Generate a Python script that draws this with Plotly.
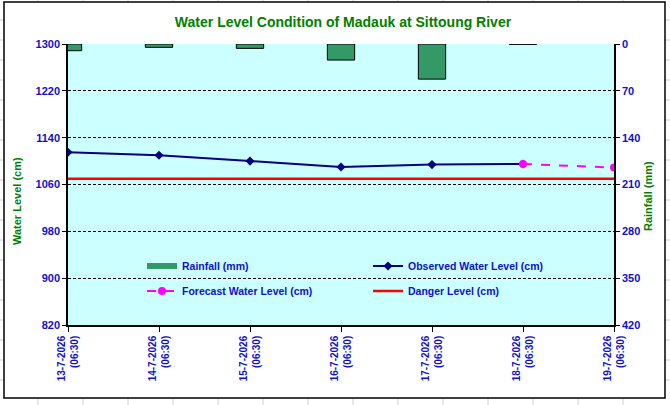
import plotly.graph_objects as go

# chart data
dates = ["13-7-2026", "14-7-2026", "15-7-2026", "16-7-2026",
         "17-7-2026", "18-7-2026", "19-7-2026"]
obs_time = "(06:30)"
rainfall_mm = [10, 5, 6.5, 24, 52.5, 0.5, None]
observed_cm = [1115, 1110, 1100, 1090, 1094, 1095, None]
forecast_cm = [None, None, None, None, None, 1095, 1089]
danger_cm = [1070] * 7
wl_ticks = [820, 900, 980, 1060, 1140, 1220, 1300]
rf_ticks = [0, 70, 140, 210, 280, 350, 420]
sheet_cols = [38, 83, 128, 173, 218, 263, 308, 353, 398, 443, 488, 533, 578, 623]
sheet_rows = [20, 40, 60, 80, 100, 120, 140, 160, 180, 200, 220, 240, 260, 280,
              300, 320, 340, 360, 380]

W, H = 670, 405
L, R, T, B = 68, 614, 44, 325

FONT = "Arial, Liberation Sans, sans-serif"
BLUE = "#1010C8"
GREEN = "#008000"
RAIN_GREEN = "#339966"

x = list(range(len(dates)))
labels = [f"{d}<br>{obs_time}" for d in dates]


def px_x(p):
    return (p - L) / (R - L)


def px_y(p):
    return (B - p) / (B - T)


fig = go.Figure()

fig.add_trace(go.Bar(
    x=x, y=rainfall_mm, name="<b>Rainfall (mm)</b>", yaxis="y2", width=0.3,
    marker=dict(color=RAIN_GREEN, line=dict(color="black", width=1)),
    showlegend=False,
))
# legend stand-in so the rainfall key is a wide flat bar like the original
fig.add_trace(go.Scatter(
    x=[None], y=[None], name="<b>Rainfall (mm)</b>", mode="lines",
    line=dict(color=RAIN_GREEN, width=6), legend="legend",
))
fig.add_trace(go.Scatter(
    x=x, y=observed_cm, name="<b>Observed Water Level (cm)</b>", mode="lines+markers",
    line=dict(color="#000080", width=2),
    marker=dict(symbol="diamond", size=7, color="#000080"),
    legend="legend2",
))
fig.add_trace(go.Scatter(
    x=x, y=forecast_cm, name="<b>Forecast Water Level (cm)</b>", mode="lines+markers",
    line=dict(color="#FF00FF", width=2, dash="dash"),
    marker=dict(symbol="circle", size=8, color="#FF00FF"),
    legend="legend3",
))
fig.add_trace(go.Scatter(
    x=x, y=danger_cm, name="<b>Danger Level (cm)</b>", mode="lines",
    line=dict(color="#FF0000", width=2.5),
    legend="legend4",
))

shapes = []
# spreadsheet grid peeking around the chart frame
for c in sheet_cols:
    for y0, y1 in ((0, 2), (398, 405)):
        shapes.append(dict(type="line", xref="paper", yref="paper",
                           x0=px_x(c), x1=px_x(c), y0=px_y(y0), y1=px_y(y1),
                           line=dict(color="#D0D0D0", width=1), layer="below"))
for r in sheet_rows:
    for x0, x1 in ((0, 4), (665, 670)):
        shapes.append(dict(type="line", xref="paper", yref="paper",
                           x0=px_x(x0), x1=px_x(x1), y0=px_y(r), y1=px_y(r),
                           line=dict(color="#D0D0D0", width=1), layer="below"))
# chart frame
shapes.append(dict(type="rect", xref="paper", yref="paper",
                   x0=px_x(4), x1=px_x(665), y0=px_y(2), y1=px_y(398),
                   line=dict(color="black", width=1.5), layer="below"))

tickfont = dict(family=FONT, size=11, color=BLUE)
legfont = dict(family=FONT, size=10.5, color=BLUE)
axtitle_font = dict(family=FONT, size=11, color=GREEN)


def leg(px, py):
    return dict(x=px_x(px), y=px_y(py), xanchor="left", yanchor="middle",
                bgcolor="rgba(0,0,0,0)", font=legfont, itemwidth=30)


# axis titles sit a little below the plot middle in the original
annotations = [
    dict(text="<b>Water Level (cm)</b>", xref="paper", yref="paper",
         x=px_x(17), y=px_y(201), xanchor="center", yanchor="middle",
         textangle=-90, showarrow=False, font=axtitle_font),
    dict(text="<b>Rainfall (mm)</b>", xref="paper", yref="paper",
         x=px_x(648), y=px_y(196), xanchor="center", yanchor="middle",
         textangle=-90, showarrow=False, font=axtitle_font),
]

fig.update_layout(
    width=W, height=H,
    margin=dict(l=L, r=W - R, t=T, b=H - B),
    paper_bgcolor="white",
    plot_bgcolor="#CCFFFF",
    showlegend=True,
    title=dict(text="<b>Water Level Condition of Madauk at Sittoung River</b>",
               x=px_x(343), xref="paper", xanchor="center",
               y=1 - 22 / H, yanchor="middle",
               font=dict(family=FONT, size=14, color=GREEN)),
    xaxis=dict(range=[0, 6], tickvals=x, ticktext=[f"<b>{t}</b>" for t in labels],
               tickangle=-90, tickfont=dict(family=FONT, size=10, color=BLUE),
               ticks="outside", ticklen=5, tickcolor="black",
               showline=True, linecolor="black", linewidth=1.5,
               showgrid=False, zeroline=False, automargin=False),
    yaxis=dict(range=[820, 1300], tickvals=wl_ticks,
               ticktext=[f"<b>{v}</b>" for v in wl_ticks], tickfont=tickfont,
               ticks="outside", ticklen=4, tickcolor="black",
               showline=True, linecolor="black", linewidth=1.5,
               showgrid=True, gridcolor="black", gridwidth=1, griddash="3px,2px",
               zeroline=False, automargin=False),
    yaxis2=dict(range=[420, 0], overlaying="y", side="right", tickvals=rf_ticks,
                ticktext=[f"<b>{v}</b>" for v in rf_ticks], tickfont=tickfont,
                ticks="outside", ticklen=4, tickcolor="black",
                showline=True, linecolor="black", linewidth=1.5,
                showgrid=False, zeroline=False, automargin=False),
    legend=leg(142, 266),
    legend2=leg(368, 266),
    legend3=leg(142, 291),
    legend4=leg(368, 291),
    shapes=shapes,
    annotations=annotations,
)

# drop the browser's default page margin so the figure sits at the window corner
fig.write_html("out.html", config={"displayModeBar": False},
               post_script="document.body.style.margin = '0px';")
